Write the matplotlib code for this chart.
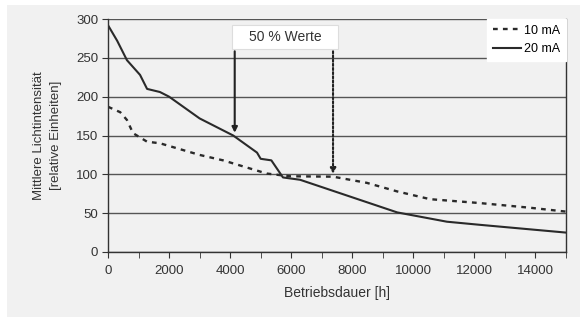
import matplotlib
matplotlib.use("Agg")
import matplotlib.pyplot as plt
from matplotlib.patches import Rectangle

plt.rcParams['font.family'] = ['Liberation Sans', 'DejaVu Sans']

# 20 mA (solid)
h20 = [0, 300, 620, 1050, 1280, 1700, 2000, 3000, 4100, 4880, 5000, 5350, 5730, 6290, 9470, 11100, 12180, 15000]
v20 = [292, 272, 247, 228, 210, 206, 200, 172, 150, 128, 120, 118, 96, 93, 51, 39, 35, 25]
# 10 mA (dashed)
h10 = [0, 400, 620, 820, 1280, 1700, 3000, 3770, 5200, 5960, 7370, 8480, 9470, 10550, 12180, 13820, 15000]
v10 = [187, 180, 170, 153, 142, 140, 125, 118, 101, 97.5, 97, 89, 78, 68, 63, 57, 52]

xticks = [0, 2000, 4000, 6000, 8000, 10000, 12000, 14000]
yticks = [0, 50, 100, 150, 200, 250, 300]

arrow_solid_x, arrow_solid_y = 4150, 150
arrow_dot_x, arrow_dot_y = 7370, 97
box_x0, box_x1, box_y0, box_y1 = 4060, 7530, 262, 292

fig = plt.figure(figsize=(5.8, 3.17), dpi=100)
fig.patch.set_facecolor('white')
fig.patches.append(Rectangle((7/580, 0), 1, 1 - 5/317, transform=fig.transFigure,
                             facecolor='#f1f1f1', edgecolor='none', zorder=-10))
ax = fig.add_axes([108/580, 1 - 252/317, 458/580, 233/317])
ax.set_facecolor('#f1f1f1')

ax.set_xlim(0, 15000)
ax.set_ylim(0, 300)
ax.set_xticks(xticks)
ax.set_xticks(range(1000, 15001, 2000), minor=True)
ax.set_yticks(yticks)
ax.yaxis.grid(True, color='#555555', linewidth=1.0)
ax.set_axisbelow(True)
for s in ['left', 'right', 'bottom']:
    ax.spines[s].set_color('#333333')
    ax.spines[s].set_linewidth(1.0)
ax.spines['top'].set_visible(False)
ax.tick_params(axis='both', which='both', direction='out', color='#333333', labelsize=9.5, labelcolor='#333333')
ax.tick_params(axis='x', which='both', length=4, pad=5)
ax.tick_params(axis='y', length=4, pad=3)

l10, = ax.plot(h10, v10, color='#2a2a2a', linestyle=(0, (2, 2.2)), linewidth=1.7, label='10 mA')
l20, = ax.plot(h20, v20, color='#2a2a2a', linestyle='-', linewidth=1.5, label='20 mA')

ax.add_patch(Rectangle((box_x0, box_y0), box_x1 - box_x0, box_y1 - box_y0,
                       facecolor='white', edgecolor='#dddddd', linewidth=0.8, zorder=3))
ax.text((box_x0 + box_x1) / 2, (box_y0 + box_y1) / 2, '50 % Werte', ha='center', va='center',
        fontsize=10, color='#333333', zorder=4)
ax.annotate('', xy=(arrow_solid_x, arrow_solid_y), xytext=(arrow_solid_x, box_y0),
            arrowprops=dict(arrowstyle='-|>', color='#222222', lw=1.5, mutation_scale=8))
ax.annotate('', xy=(arrow_dot_x, arrow_dot_y), xytext=(arrow_dot_x, box_y0),
            arrowprops=dict(arrowstyle='-|>', color='#222222', lw=1.5, linestyle=(0, (1, 1)), mutation_scale=8))

leg = ax.legend(handles=[l10, l20], loc='upper right', bbox_to_anchor=(1.0, 1.0), frameon=True,
                fancybox=False, fontsize=9, handlelength=2.2, handletextpad=0.3,
                borderpad=0.45, labelspacing=0.55, borderaxespad=0.0)
leg.get_frame().set_facecolor('white')
leg.get_frame().set_edgecolor('white')
leg.get_frame().set_alpha(1)

ax.set_xlabel('Betriebsdauer [h]', fontsize=10, color='#333333', labelpad=7)
ax.set_ylabel('Mittlere Lichtintensität\n[relative Einheiten]', fontsize=9.5, color='#333333',
              labelpad=10, linespacing=1.6)

fig.savefig('out.png', dpi=100)
